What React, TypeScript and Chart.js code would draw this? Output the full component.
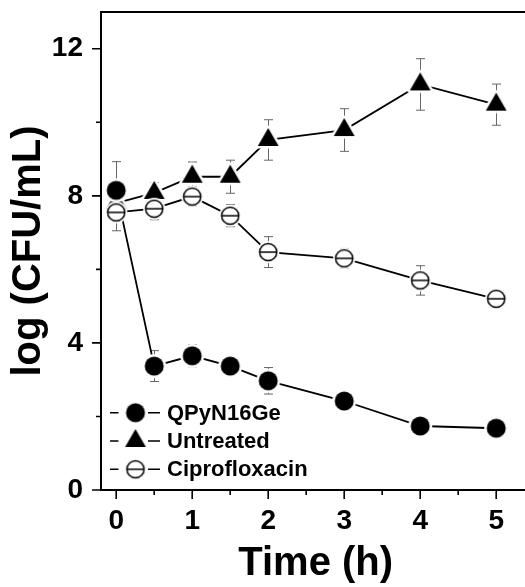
import React, { useEffect, useRef } from 'react';
import { Chart, registerables } from 'chart.js';

Chart.register(...registerables);

// ---- data ----
const times = [0, 0.5, 1, 1.5, 2, 3, 4, 5];
const seriesLabels = ['QPyN16Ge', 'Untreated', 'Ciprofloxacin'];
const qpynValues = [8.15, 3.37, 3.65, 3.37, 2.97, 2.42, 1.74, 1.68];
const qpynErrors = [0.78, 0.42, 0.3, 0.28, 0.36, 0.22, 0.15, 0.28];
const untreatedValues = [7.8, 8.08, 8.52, 8.52, 9.52, 9.79, 11.03, 10.48];
const untreatedErrors = [0.2, 0.28, 0.4, 0.45, 0.55, 0.58, 0.7, 0.56];
const ciproValues = [7.55, 7.65, 7.98, 7.46, 6.47, 6.3, 5.7, 5.2];
const ciproErrors = [0.5, 0.3, 0.27, 0.3, 0.42, 0.27, 0.4, 0.15];
const xTickValues = [0, 1, 2, 3, 4, 5];
const xMinorTicks = [0.5, 1.5, 2.5, 3.5, 4.5];
const yTickValues = [0, 4, 8, 12];
const yMinorTicks = [2, 6, 10];

const FONT = "'Liberation Sans', Arial, Helvetica, sans-serif";
const CANVAS_W = 550;
const CANVAS_H = 587;

type Kind = 'filled' | 'tri' | 'open';

function makeMarker(kind: Kind, halo: number): HTMLCanvasElement {
  const size = 40;
  const c = document.createElement('canvas');
  c.width = size;
  c.height = size;
  const ctx = c.getContext('2d')!;
  const cx = size / 2;
  const cy = size / 2;
  const path = () => {
    ctx.beginPath();
    if (kind === 'tri') {
      const r = 12;
      for (let k = 0; k < 3; k++) {
        const a = (k * 2 * Math.PI) / 3;
        const px = cx + Math.sin(a) * r;
        const py = cy - Math.cos(a) * r;
        if (k === 0) ctx.moveTo(px, py);
        else ctx.lineTo(px, py);
      }
      ctx.closePath();
    } else {
      ctx.arc(cx, cy, kind === 'filled' ? 9.5 : 8.6, 0, Math.PI * 2);
    }
  };
  if (halo > 0) {
    path();
    ctx.fillStyle = '#fff';
    ctx.fill();
    ctx.lineWidth = halo * 2;
    ctx.lineJoin = 'round';
    ctx.strokeStyle = '#fff';
    ctx.stroke();
  }
  path();
  if (kind === 'open') {
    ctx.fillStyle = '#fff';
    ctx.fill();
    ctx.lineWidth = 1.5;
    ctx.strokeStyle = '#000';
    ctx.stroke();
    ctx.beginPath();
    ctx.moveTo(cx - 8.6, cy);
    ctx.lineTo(cx + 8.6, cy);
    ctx.stroke();
  } else {
    ctx.fillStyle = '#000';
    ctx.fill();
  }
  return c;
}

const decorPlugin = {
  id: 'decor',
  beforeDatasetsDraw(chart: any) {
    const { ctx } = chart;
    const yScale = chart.scales.y;
    ctx.save();
    ctx.strokeStyle = '#666';
    ctx.lineWidth = 1;
    chart.data.datasets.forEach((ds: any, i: number) => {
      const meta = chart.getDatasetMeta(i);
      const errs: number[] = ds.errors || [];
      meta.data.forEach((pt: any, j: number) => {
        const v = ds.data[j].y;
        const e = errs[j] || 0;
        const x = Math.round(pt.x) + 0.5;
        const yt = yScale.getPixelForValue(v + e);
        const yb = yScale.getPixelForValue(v - e);
        ctx.beginPath();
        ctx.moveTo(x, yt);
        ctx.lineTo(x, yb);
        ctx.moveTo(x - 4.5, yt);
        ctx.lineTo(x + 4.5, yt);
        ctx.moveTo(x - 4.5, yb);
        ctx.lineTo(x + 4.5, yb);
        ctx.stroke();
      });
    });
    ctx.restore();
  },
  afterDraw(chart: any) {
    const { ctx, chartArea } = chart;
    const xs = chart.scales.x;
    const ys = chart.scales.y;
    const { left, right, top, bottom } = chartArea;
    ctx.save();
    // frame
    ctx.strokeStyle = '#000';
    ctx.lineWidth = 2;
    ctx.strokeRect(left, top, right - left, bottom - top);
    // ticks
    ctx.lineWidth = 1.6;
    ctx.beginPath();
    xTickValues.forEach((v) => {
      const x = xs.getPixelForValue(v);
      ctx.moveTo(x, bottom);
      ctx.lineTo(x, bottom + 9);
    });
    xMinorTicks.forEach((v) => {
      const x = xs.getPixelForValue(v);
      ctx.moveTo(x, bottom);
      ctx.lineTo(x, bottom + 5);
    });
    yTickValues.forEach((v) => {
      const y = ys.getPixelForValue(v);
      ctx.moveTo(left, y);
      ctx.lineTo(left - 9, y);
    });
    yMinorTicks.forEach((v) => {
      const y = ys.getPixelForValue(v);
      ctx.moveTo(left, y);
      ctx.lineTo(left - 5, y);
    });
    ctx.stroke();
    // legend
    const x0 = left + 9;
    chart.data.datasets.forEach((ds: any, i: number) => {
      const y = bottom - 77.3 + i * 28.3;
      ctx.strokeStyle = '#000';
      ctx.lineWidth = 1.5;
      ctx.beginPath();
      ctx.moveTo(x0, y);
      ctx.lineTo(x0 + 8.5, y);
      ctx.moveTo(x0 + 38, y);
      ctx.lineTo(x0 + 50, y);
      ctx.stroke();
      const img: HTMLCanvasElement = ds.legendMarker;
      ctx.drawImage(img, x0 + 25.5 - img.width / 2, y - img.height / 2);
      ctx.fillStyle = '#000';
      ctx.font = `bold 22px ${FONT}`;
      ctx.textBaseline = 'middle';
      ctx.textAlign = 'left';
      ctx.fillText(ds.label, x0 + 57, y + 1);
    });
    ctx.restore();
  },
};

export default function App() {
  const canvasRef = useRef<HTMLCanvasElement | null>(null);

  useEffect(() => {
    if (!canvasRef.current) return;
    const halo = 2.5;
    const kinds: Kind[] = ['filled', 'tri', 'open'];
    const valueSets = [qpynValues, untreatedValues, ciproValues];
    const errorSets = [qpynErrors, untreatedErrors, ciproErrors];
    const orders = [1, 2, 0];
    const datasets = seriesLabels.map((label, i) => ({
      label,
      data: times.map((t, j) => ({ x: t, y: valueSets[i][j] })),
      errors: errorSets[i],
      legendMarker: makeMarker(kinds[i], 0),
      borderColor: '#000',
      backgroundColor: '#000',
      borderWidth: 1.8,
      tension: 0,
      pointStyle: makeMarker(kinds[i], halo),
      pointRadius: 10,
      order: orders[i],
      clip: false,
    }));

    const chart = new Chart(canvasRef.current, {
      type: 'line',
      data: { datasets } as any,
      options: {
        animation: false,
        responsive: false,
        events: [],
        layout: { padding: { left: 0, top: 12, right: CANVAS_W - 530.4, bottom: 0 } },
        plugins: { legend: { display: false }, tooltip: { enabled: false } },
        scales: {
          x: {
            type: 'linear',
            min: -0.2,
            max: 5.45,
            grid: { display: false, drawTicks: false },
            border: { display: false },
            afterBuildTicks: (s: any) => {
              s.ticks = xTickValues.map((v) => ({ value: v }));
            },
            afterFit: (s: any) => {
              s.height = CANVAS_H - 490;
              s.paddingLeft = 0;
              s.paddingRight = 0;
            },
            ticks: {
              color: '#000',
              padding: 14,
              font: { family: FONT, size: 28, weight: 'bold' },
              callback: (v: any) => String(v),
              maxRotation: 0,
            },
            title: {
              display: true,
              text: 'Time (h)',
              color: '#000',
              font: { family: FONT, size: 40, weight: 'bold', lineHeight: 1 },
              padding: { top: 0, bottom: 3 },
            },
          },
          y: {
            type: 'linear',
            min: 0,
            max: 13,
            grid: { display: false, drawTicks: false },
            border: { display: false },
            afterBuildTicks: (s: any) => {
              s.ticks = yTickValues.map((v) => ({ value: v }));
            },
            afterFit: (s: any) => {
              s.width = 101;
              s.paddingTop = 0;
              s.paddingBottom = 0;
            },
            ticks: {
              color: '#000',
              padding: 18,
              font: { family: FONT, size: 28, weight: 'bold' },
              callback: (v: any) => String(v),
            },
            title: {
              display: true,
              text: 'log (CFU/mL)',
              color: '#000',
              font: { family: FONT, size: 40, weight: 'bold', lineHeight: 1 },
              padding: { top: 9, bottom: 0 },
            },
          },
        },
      } as any,
      plugins: [decorPlugin],
    });
    return () => chart.destroy();
  }, []);

  return (
    <div
      style={{
        position: 'fixed',
        left: 0,
        top: 0,
        width: 525,
        height: 587,
        overflow: 'hidden',
        background: '#fff',
      }}
    >
      <canvas ref={canvasRef} width={CANVAS_W} height={CANVAS_H} style={{ display: 'block' }} />
    </div>
  );
}
